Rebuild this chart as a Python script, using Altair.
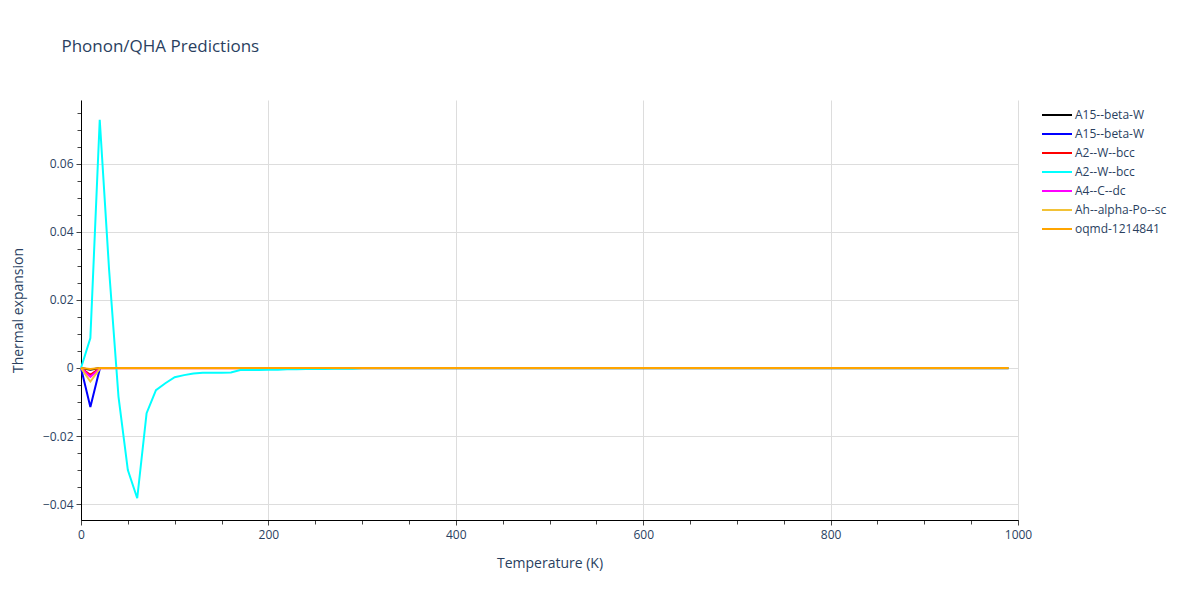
import altair as alt
import pandas as pd

temps = list(range(0, 1000, 10))

series_keys = ["A15--beta-W#1", "A15--beta-W#2", "A2--W--bcc#1", "A2--W--bcc#2",
               "A4--C--dc", "Ah--alpha-Po--sc", "oqmd-1214841"]
series_colors = ["#000000", "#0000ff", "#ff0000", "#00ffff", "#ff00ff", "#f2c237", "#ffa500"]

black_vals = [0.0, -0.0005, 0.0]
blue_vals = [0.0, -0.0115, -0.0003]
red_vals = [0.0, -0.002] + [-0.0001] * 98
cyan_vals = [0.0, 0.0088, 0.073, 0.0288, -0.0084, -0.030, -0.0383, -0.0133, -0.0065, -0.0045,
             -0.0027, -0.0021, -0.0016, -0.0014, -0.0014, -0.0014, -0.0013, -0.0006, -0.0006, -0.0006,
             -0.0005, -0.0005, -0.0004, -0.0004, -0.0003, -0.0003, -0.0003, -0.0002, -0.0002, -0.0002,
             -0.0001] + [-0.0001] * 69
magenta_vals = [0.0, -0.0026, -0.0002]
ah_vals = [0.0, -0.004, -0.0003]
orange_vals = [0.0, -0.0003] + [0.0] * 98

all_vals = [black_vals, blue_vals, red_vals, cyan_vals, magenta_vals, ah_vals, orange_vals]

rows = []
for key, vals in zip(series_keys, all_vals):
    for t, v in zip(temps, vals):
        rows.append({"s": key, "T": t, "v": v})
df = pd.DataFrame(rows)

x_major = [0, 200, 400, 600, 800, 1000]
x_minor = list(range(0, 1001, 50))
y_major = [-0.04, -0.02, 0.0, 0.02, 0.04, 0.06]
y_minor = [round(-0.04 + 0.005 * i, 3) for i in range(24)]

FONT = "Open Sans"
TXT = "#2a3f5f"

xs = alt.Scale(domain=[0, 1000], nice=False, zero=False)
ys = alt.Scale(domain=[-0.0447, 0.0788], nice=False, zero=False)

lines = alt.Chart(df).mark_line(strokeWidth=2).encode(
    x=alt.X("T:Q", scale=xs, axis=alt.Axis(
        orient="bottom", labelFlush=False,
        values=x_major, title="Temperature (K)", grid=True, gridColor="#dddddd",
        domainColor="#000000", tickColor="#444444", tickSize=5, labelPadding=4,
        labelFont=FONT, labelFontSize=12, labelColor=TXT, titleFont=FONT,
        titleFontSize=14, titleColor=TXT, titleFontWeight="normal", titlePadding=16,
        format="d")),
    y=alt.Y("v:Q", scale=ys, axis=alt.Axis(
        orient="left", labelFlush=False,
        values=y_major, title="Thermal expansion", grid=True, gridColor="#dddddd",
        domainColor="#000000", tickColor="#444444", tickSize=5, labelPadding=3,
        labelFont=FONT, labelFontSize=12, labelColor=TXT, titleFont=FONT,
        titleFontSize=14, titleColor=TXT, titleFontWeight="normal", titlePadding=17,
        labelExpr="datum.value == 0 ? '0' : format(datum.value, '.2f')")),
    color=alt.Color("s:N", scale=alt.Scale(domain=series_keys, range=series_colors),
                    sort=series_keys,
                    legend=alt.Legend(title=None, orient="none", legendX=969, legendY=8,
                                      symbolType="M-2.5,0H2.5", symbolSize=144, symbolStrokeWidth=2,
                                      labelFont=FONT, labelFontSize=12, labelColor=TXT,
                                      rowPadding=6, labelOffset=11,
                                      labelExpr="split(datum.label, '#')[0]")),
    order=alt.Order("T:Q"),
)

minor = alt.Chart(df).mark_line(opacity=0).encode(
    x=alt.X("T:Q", scale=xs, axis=alt.Axis(values=x_minor, labels=False, grid=False, domain=False,
                                           title=None, tickColor="#444444", tickSize=4, orient="bottom")),
    y=alt.Y("v:Q", scale=ys, axis=alt.Axis(values=y_minor, labels=False, grid=False, domain=False,
                                           title=None, tickColor="#444444", tickSize=4, orient="left")),
    detail="s:N",
)

chart = alt.layer(minor, lines).resolve_axis(x="independent", y="independent").properties(
    width=937, height=420,
    title=alt.TitleParams("Phonon/QHA Predictions", anchor="start", dx=50, offset=44,
                          font=FONT, fontSize=17, color=TXT, fontWeight="normal"),
    autosize=alt.AutoSizeParams(type="none"),
    padding={"left": 73, "top": 92, "right": 170, "bottom": 60},
).configure_view(stroke=None)

chart.save("out.html", embed_options={"renderer": "svg", "actions": False})
